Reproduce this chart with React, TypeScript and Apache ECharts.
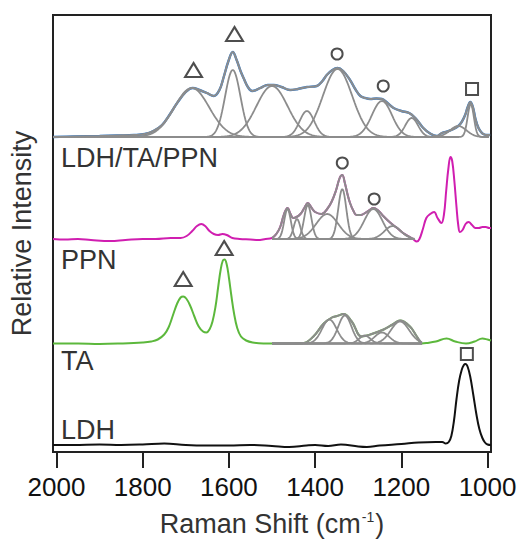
import React, { useEffect, useRef } from "react";
import * as echarts from "echarts";

type Pt = [number, number];
type Peak = [number, number, number]; // [center cm-1, height, FWHM]

// ---------- axis ----------
const xTickValues = [2000, 1800, 1600, 1400, 1200, 1000];

// ---------- spectra (wavenumber, intensity above own baseline) ----------
const ldhSpectrum: Pt[] = [
  [2008, 0], [1960, 0], [1900, 0.5], [1850, 0], [1800, 0.5], [1750, 1.5], [1700, 0],
  [1650, -0.5], [1600, -0.5], [1550, 0], [1500, -1], [1460, -2], [1420, -0.5], [1400, 0],
  [1370, -1], [1340, 0.5], [1300, -1.5], [1280, -2], [1250, -0.5], [1200, 1], [1160, 2.5],
  [1120, 3], [1105, 3], [1097, 1.5], [1090, 3], [1084, 9], [1078, 24], [1072, 46], [1066, 64],
  [1060, 75], [1055, 80], [1051, 81], [1046, 78], [1040, 68], [1033, 50], [1026, 31],
  [1019, 16], [1012, 7], [1006, 2.5], [1000, 0.5], [992, 0],
];

const taSpectrum: Pt[] = [
  [2008, 0], [1950, 0], [1900, -0.5], [1850, 0], [1800, 1], [1780, 2], [1765, 4], [1750, 9],
  [1740, 16], [1730, 28], [1720, 40], [1712, 46], [1706, 47], [1699, 45], [1690, 38],
  [1680, 27], [1670, 17], [1660, 12], [1652, 11], [1645, 14], [1638, 22], [1631, 37],
  [1625, 56], [1619, 74], [1614, 83], [1610, 84], [1605, 79], [1600, 66], [1594, 47],
  [1588, 30], [1581, 16], [1572, 7], [1560, 3], [1545, 1], [1520, 0], [1500, 0],
  [1460, 0], [1427, 0.5], [1404, 7], [1380, 20], [1361, 26], [1349, 27.5], [1334, 29.5],
  [1315, 22], [1292, 7], [1272, 9], [1241, 14], [1220, 19], [1203, 23], [1180, 17],
  [1164, 7], [1152, 0], [1141, 0.5], [1120, 2], [1095, 5], [1075, 2], [1050, 0],
  [1030, 2], [1012, 5], [1000, 4], [992, 3],
];

const ppnSpectrum: Pt[] = [
  [2008, 0], [1980, -0.5], [1950, 0], [1920, -1], [1875, -2], [1840, -1], [1800, 0],
  [1770, 0], [1735, 1], [1712, 1], [1698, 3], [1685, 8], [1674, 13], [1664, 15], [1655, 13],
  [1645, 8], [1635, 5], [1625, 4], [1615, 5], [1605, 4], [1592, 1], [1575, 0], [1550, -0.5],
  [1533, -1], [1515, 0], [1500, 1], [1490, 5], [1481, 12], [1472, 25], [1464, 31],
  [1457, 25], [1451, 21], [1443, 22], [1434, 25], [1425, 31], [1417, 36], [1408, 31],
  [1400, 27], [1385, 25], [1372, 30], [1362, 37], [1352, 48], [1343, 61], [1337, 64],
  [1331, 56], [1325, 45], [1319, 36], [1311, 28], [1304, 24], [1294, 24], [1284, 26],
  [1274, 29], [1265, 31], [1255, 29], [1242, 23], [1230, 18], [1219, 14], [1207, 10],
  [1196, 6], [1184, 3], [1173, 0], [1164, -2.5], [1158, 0], [1150, 10], [1142, 21],
  [1133, 25], [1124, 27], [1116, 21], [1107, 16], [1101, 25], [1096, 48], [1091, 70],
  [1086, 82], [1082, 78], [1077, 58], [1072, 32], [1068, 14], [1064, 7], [1058, 9],
  [1051, 15], [1044, 17], [1036, 14], [1028, 11], [1020, 11], [1012, 12], [1004, 12],
  [996, 11], [992, 11],
];

const compositeSpectrum: Pt[] = [
  [2008, 0], [1960, 0.5], [1900, 1], [1860, 1.5], [1820, 2], [1795, 3], [1775, 6],
  [1755, 12], [1738, 22], [1720, 34], [1700, 45], [1684, 49], [1668, 47], [1651, 44],
  [1635, 41], [1622, 47], [1612, 60], [1601, 76], [1591, 85], [1582, 77], [1573, 66],
  [1566, 59], [1556, 50], [1546, 46], [1527, 49], [1510, 52], [1496, 52], [1478, 50],
  [1458, 47], [1440, 48], [1419, 50], [1396, 51], [1383, 56], [1373, 62], [1360, 67],
  [1348, 69], [1335, 66], [1319, 57], [1307, 48], [1295, 41], [1284, 39], [1272, 38],
  [1258, 38.5], [1245, 38], [1232, 34], [1218, 29], [1200, 26], [1182, 24], [1170, 20],
  [1160, 15], [1149, 9], [1135, 4], [1118, 1], [1106, 4], [1090, 6], [1079, 8], [1068, 11],
  [1060, 15], [1052, 22], [1046, 30], [1040, 35], [1034, 30], [1028, 18], [1021, 9],
  [1015, 5], [1010, 3], [1002, 2], [994, 2],
];

// ---------- fitted peak components [center, height, FWHM] ----------
const compositePeaksHigh: Peak[] = [
  [1686, 49, 95], [1591, 67, 42], [1500, 51, 85], [1419, 26, 40],
  [1348, 68, 80], [1245, 36, 55], [1176, 19, 35],
];
const compositePeaksLow: Peak[] = [[1068, 11, 45], [1039, 33, 17]];
const ppnPeaks: Peak[] = [
  [1464, 30, 18], [1442, 20, 18], [1417, 34, 20], [1372, 25, 60],
  [1337, 50, 22], [1265, 30, 50], [1220, 13, 45],
];
const taPeaks: Peak[] = [
  [1367, 24, 40], [1331, 28, 36], [1285, 8, 30], [1245, 11, 40], [1203, 22, 50],
];

// ---------- peak assignment marks [wavenumber, level] ----------
const triangleMarks: Pt[] = [[1682, 382], [1587, 418], [1706, 173], [1611, 204]];
const circleMarks: Pt[] = [[1349, 398], [1242, 366], [1337, 289], [1263, 253]];
const squareMarks: Pt[] = [[1036, 363], [1048, 98]];

// ---------- layout / style ----------
const OFFSET = { ldh: 7, ta: 108.5, ppn: 213, comp: 315 };
const COLORS = { ldh: "#111111", ta: "#5cb83c", ppn: "#d01eb0", comp: "#2a7bd4", fit: "#8c8c8c" };
const FONT = '"Liberation Sans", Arial, Helvetica, sans-serif';

const shift = (d: Pt[], off: number): Pt[] => d.map(([x, y]) => [x, y + off]);
const within = (d: Pt[], a: number, b: number): Pt[] =>
  d.filter(([x]) => x <= Math.max(a, b) && x >= Math.min(a, b));

const profile = (p: Peak, from: number, to: number, off: number): Pt[] => {
  const [c, h, w] = p;
  const out: Pt[] = [];
  for (let v = from; v >= to; v -= 2) {
    out.push([v, off + h * Math.exp((-4 * Math.LN2 * (v - c) * (v - c)) / (w * w))]);
  }
  return out;
};

const line = (data: Pt[], color: string, width: number, smooth: number | boolean, z: number) => ({
  type: "line",
  data,
  showSymbol: false,
  symbol: "none",
  smooth,
  silent: true,
  z,
  lineStyle: { color, width },
  itemStyle: { color },
});

export default function App() {
  const ref = useRef<HTMLDivElement>(null);
  useEffect(() => {
    if (!ref.current) return;
    const chart = echarts.init(ref.current, null, { renderer: "svg" });

    const series: any[] = [];
    series.push(line(shift(ldhSpectrum, OFFSET.ldh), COLORS.ldh, 2, 0.4, 2));
    series.push(line(shift(taSpectrum, OFFSET.ta), COLORS.ta, 2, 0.4, 2));
    series.push(line(shift(ppnSpectrum, OFFSET.ppn), COLORS.ppn, 2, 0.4, 2));
    series.push(line(shift(compositeSpectrum, OFFSET.comp), COLORS.comp, 2.4, 0.4, 2));

    const addFit = (peaks: Peak[], from: number, to: number, off: number) => {
      peaks.forEach((p) => series.push(line(profile(p, from, to, off), COLORS.fit, 1.8, false, 3)));
    };
    addFit(compositePeaksHigh, 2008, 1115, OFFSET.comp);
    addFit(compositePeaksLow, 1115, 996, OFFSET.comp);
    addFit(ppnPeaks, 1500, 1170, OFFSET.ppn);
    addFit(taPeaks, 1500, 1152, OFFSET.ta);

    series.push(line(shift(within(compositeSpectrum, 2008, 994), OFFSET.comp), COLORS.fit, 2, 0.4, 4));
    series.push(line(shift(within(ppnSpectrum, 1500, 1173), OFFSET.ppn), COLORS.fit, 2, 0.4, 4));
    series.push(line(shift(within(taSpectrum, 1500, 1152), OFFSET.ta), COLORS.fit, 2, 0.4, 4));

    const marks = (data: Pt[], symbol: string, size: number | number[]) => ({
      type: "scatter",
      data,
      symbol,
      symbolSize: size,
      silent: true,
      z: 6,
      itemStyle: { color: "#ffffff", borderColor: "#222222", borderWidth: 2 },
    });
    series.push(marks(triangleMarks, "triangle", [17, 14]));
    series.push(marks(circleMarks, "circle", 11));
    series.push(marks(squareMarks, "rect", 12));

    const label = (text: string, y: number) => ({
      type: "text",
      x: 61,
      y,
      z: 10,
      style: { text, font: `27px ${FONT}`, fill: "#333333", align: "left", verticalAlign: "middle" },
    });

    chart.setOption({
      animation: false,
      backgroundColor: "#ffffff",
      grid: {
        left: 53, right: 29, top: 15, bottom: 87,
        show: true, borderColor: "#222222", borderWidth: 2,
        outerBoundsMode: "none", containLabel: false,
      },
      xAxis: {
        type: "value",
        min: 992,
        max: 2008,
        inverse: true,
        splitLine: { show: false },
        axisLine: { show: true, lineStyle: { color: "#222222", width: 2 } },
        axisTick: { show: true, customValues: xTickValues, length: 16, lineStyle: { color: "#222222", width: 2 } },
        axisLabel: {
          customValues: xTickValues,
          formatter: (v: number) => String(v),
          color: "#111111", fontSize: 26, fontFamily: FONT, margin: 22,
        },
        name: "{a|Raman Shift (cm}{s|-1}{a|)}",
        nameLocation: "middle",
        nameGap: 58,
        nameTextStyle: {
          rich: {
            a: { fontSize: 27, fontFamily: FONT, color: "#333333" },
            s: { fontSize: 14, fontFamily: FONT, color: "#333333", padding: [0, 1, 14, 1] },
          },
        },
      },
      yAxis: {
        type: "value",
        min: 0,
        max: 437,
        splitLine: { show: false },
        axisLine: { show: true, lineStyle: { color: "#222222", width: 2 } },
        axisTick: { show: false },
        axisLabel: { show: false },
        name: "Relative Intensity",
        nameLocation: "middle",
        nameGap: 18,
        nameTextStyle: { fontSize: 27, fontFamily: FONT, color: "#333333" },
      },
      graphic: [
        label("LDH/TA/PPN", 158),
        label("PPN", 260),
        label("TA", 361),
        label("LDH", 430),
      ],
      series,
    });
    return () => chart.dispose();
  }, []);
  return <div ref={ref} style={{ position: "absolute", left: 0, top: 0, width: 520, height: 539 }} />;
}
